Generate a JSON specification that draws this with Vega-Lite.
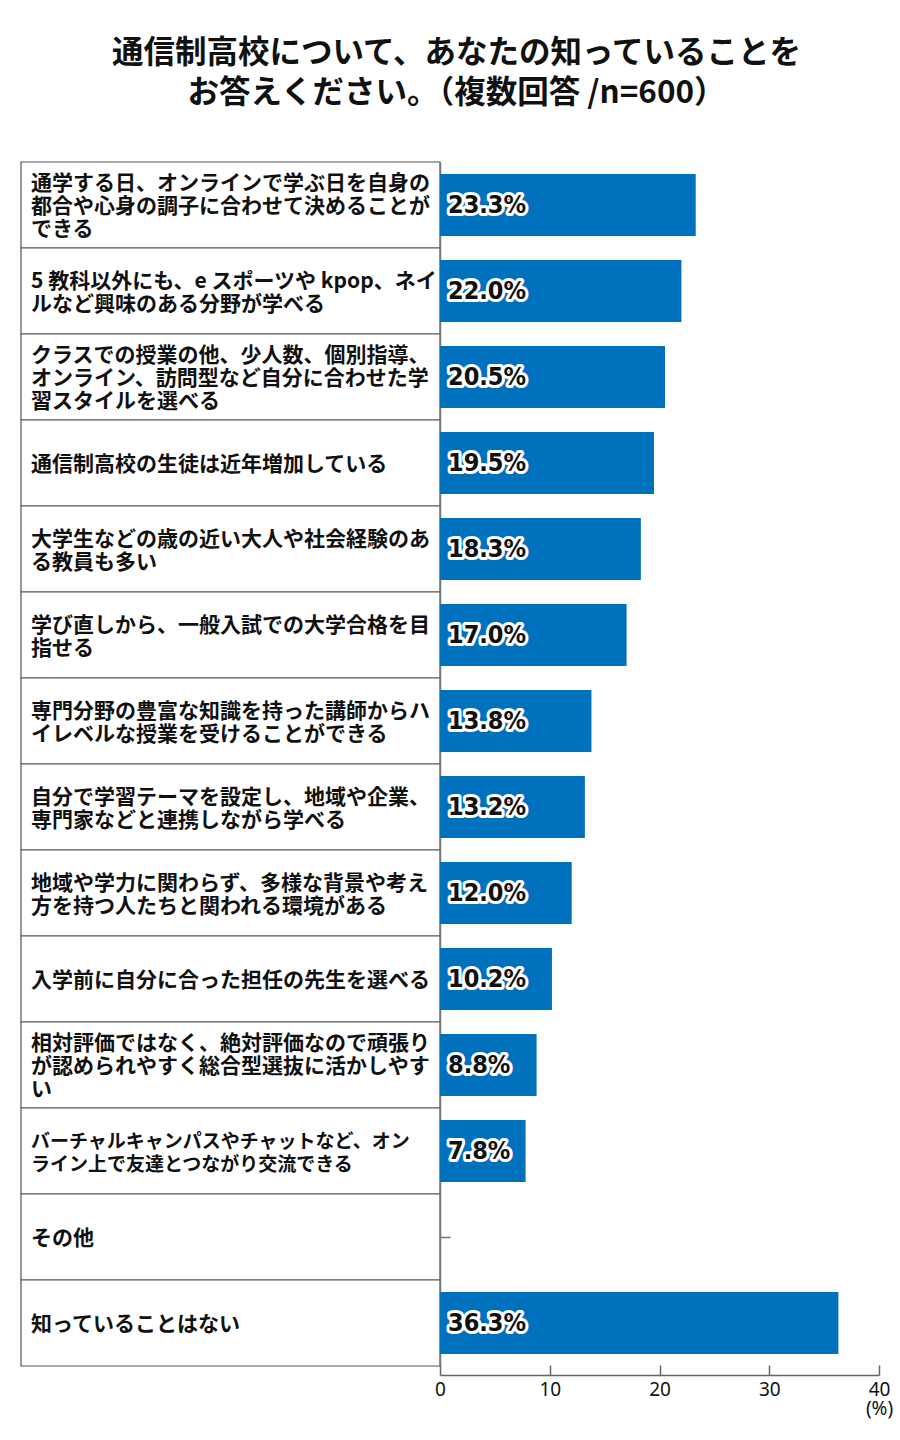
{
  "$schema": "https://vega.github.io/schema/vega-lite/v6.json",
  "padding": {"left": 20, "right": 22, "top": 37, "bottom": 10},
  "background": "white",
  "bounds": "flush",
  "title": {
    "text": ["通信制高校について、あなたの知っていることを", "お答えください。（複数回答 /n=600）"],
    "font": "Noto Sans CJK JP",
    "fontSize": 31.5,
    "fontWeight": "bold",
    "lineHeight": 40,
    "color": "#111",
    "anchor": "middle",
    "offset": 52
  },
  "data": {
    "values": [
      {"order": 1, "item": "通学する日", "lines": ["通学する日、オンラインで学ぶ日を自身の", "都合や心身の調子に合わせて決めることが", "できる"], "pct": 23.3, "label": "23.3%"},
      {"order": 2, "item": "5教科以外", "lines": ["5 教科以外にも、e スポーツや kpop、ネイ", "ルなど興味のある分野が学べる"], "pct": 22.0, "label": "22.0%"},
      {"order": 3, "item": "クラスでの授業", "lines": ["クラスでの授業の他、少人数、個別指導、", "オンライン、訪問型など自分に合わせた学", "習スタイルを選べる"], "pct": 20.5, "label": "20.5%"},
      {"order": 4, "item": "生徒は近年増加", "lines": ["通信制高校の生徒は近年増加している"], "pct": 19.5, "label": "19.5%"},
      {"order": 5, "item": "歳の近い大人", "lines": ["大学生などの歳の近い大人や社会経験のあ", "る教員も多い"], "pct": 18.3, "label": "18.3%"},
      {"order": 6, "item": "学び直し", "lines": ["学び直しから、一般入試での大学合格を目", "指せる"], "pct": 17.0, "label": "17.0%"},
      {"order": 7, "item": "専門分野", "lines": ["専門分野の豊富な知識を持った講師からハ", "イレベルな授業を受けることができる"], "pct": 13.8, "label": "13.8%"},
      {"order": 8, "item": "学習テーマ", "lines": ["自分で学習テーマを設定し、地域や企業、", "専門家などと連携しながら学べる"], "pct": 13.2, "label": "13.2%"},
      {"order": 9, "item": "多様な背景", "lines": ["地域や学力に関わらず、多様な背景や考え", "方を持つ人たちと関われる環境がある"], "pct": 12.0, "label": "12.0%"},
      {"order": 10, "item": "担任の先生", "lines": ["入学前に自分に合った担任の先生を選べる"], "pct": 10.2, "label": "10.2%"},
      {"order": 11, "item": "絶対評価", "lines": ["相対評価ではなく、絶対評価なので頑張り", "が認められやすく総合型選抜に活かしやす", "い"], "pct": 8.8, "label": "8.8%"},
      {"order": 12, "item": "バーチャルキャンパス", "lines": ["バーチャルキャンパスやチャットなど、オン", "ライン上で友達とつながり交流できる"], "pct": 7.8, "label": "7.8%"},
      {"order": 13, "item": "その他", "lines": ["その他"], "pct": 0, "label": ""},
      {"order": 14, "item": "知っていることはない", "lines": ["知っていることはない"], "pct": 36.3, "label": "36.3%"}
    ]
  },
  "spacing": 0,
  "hconcat": [
    {
      "width": 419,
      "height": 1204,
      "encoding": {
        "y": {
          "field": "item",
          "type": "nominal",
          "sort": {"field": "order"},
          "axis": null,
          "scale": {"paddingInner": 0, "paddingOuter": 0}
        }
      },
      "layer": [
        {
          "mark": {"type": "rect", "fill": "white", "stroke": "#555", "strokeWidth": 1.2}
        },
        {
          "transform": [{"filter": "length(datum.lines) == 1"}],
          "mark": {
            "type": "text", "align": "left", "baseline": "middle", "dx": 10, "dy": 2,
            "lineHeight": 23, "font": "Noto Sans CJK JP", "fontSize": 21, "fontWeight": "bold", "color": "#111"
          },
          "encoding": {
            "x": {"datum": 0, "type": "quantitative", "scale": {"domain": [0, 1]}, "axis": null},
            "text": {"field": "lines"}
          }
        },
        {
          "transform": [{"filter": "length(datum.lines) == 2 && datum.order != 12"}],
          "mark": {
            "type": "text", "align": "left", "baseline": "middle", "dx": 10, "dy": -9.5,
            "lineHeight": 23, "font": "Noto Sans CJK JP", "fontSize": 21, "fontWeight": "bold", "color": "#111"
          },
          "encoding": {
            "x": {"datum": 0, "type": "quantitative"},
            "text": {"field": "lines"}
          }
        },
        {
          "transform": [{"filter": "datum.order == 12"}],
          "mark": {
            "type": "text", "align": "left", "baseline": "middle", "dx": 10, "dy": -9.5,
            "lineHeight": 23, "font": "Noto Sans CJK JP", "fontSize": 19, "fontWeight": "bold", "color": "#111"
          },
          "encoding": {
            "x": {"datum": 0, "type": "quantitative"},
            "text": {"field": "lines"}
          }
        },
        {
          "transform": [{"filter": "length(datum.lines) == 3"}],
          "mark": {
            "type": "text", "align": "left", "baseline": "middle", "dx": 10, "dy": -21,
            "lineHeight": 23, "font": "Noto Sans CJK JP", "fontSize": 21, "fontWeight": "bold", "color": "#111"
          },
          "encoding": {
            "x": {"datum": 0, "type": "quantitative"},
            "text": {"field": "lines"}
          }
        }
      ]
    },
    {
      "width": 439,
      "height": 1204,
      "encoding": {
        "y": {
          "field": "item",
          "type": "nominal",
          "sort": {"field": "order"},
          "scale": {"paddingInner": 0.28, "paddingOuter": 0.14},
          "axis": {
            "title": null,
            "labels": false,
            "values": ["その他"],
            "ticks": true,
            "tickSize": -10,
            "tickColor": "#777",
            "tickWidth": 1.5,
            "domainColor": "#777",
            "domainWidth": 1.5
          }
        },
        "x": {
          "field": "pct",
          "type": "quantitative",
          "scale": {"domain": [0, 40], "nice": false},
          "axis": {
            "title": null,
            "grid": false,
            "values": [0, 10, 20, 30, 40],
            "offset": 9,
            "tickSize": -10,
            "tickColor": "#666",
            "tickWidth": 1.5,
            "domainColor": "#666",
            "domainWidth": 1.5,
            "labelFlush": false,
            "labelPadding": 15,
            "labelFont": "Noto Sans",
            "labelFontSize": 19,
            "labelColor": "#111",
            "labelLineHeight": 19,
            "labelExpr": "datum.value == 40 ? ['40', '(%)'] : datum.label"
          }
        }
      },
      "layer": [
        {
          "mark": {"type": "bar", "color": "#0071BC"}
        },
        {
          "mark": {
            "type": "text", "align": "left", "baseline": "middle", "dx": 8,
            "font": "DejaVu Sans Condensed", "fontSize": 25, "fontWeight": "bold",
            "fill": "white", "stroke": "white", "strokeWidth": 6, "strokeJoin": "round"
          },
          "encoding": {
            "x": {"datum": 0, "type": "quantitative"},
            "text": {"field": "label"}
          }
        },
        {
          "mark": {
            "type": "text", "align": "left", "baseline": "middle", "dx": 8,
            "font": "DejaVu Sans Condensed", "fontSize": 25, "fontWeight": "bold",
            "fill": "#111"
          },
          "encoding": {
            "x": {"datum": 0, "type": "quantitative"},
            "text": {"field": "label"}
          }
        }
      ]
    }
  ],
  "config": {
    "view": {"stroke": null}
  }
}
